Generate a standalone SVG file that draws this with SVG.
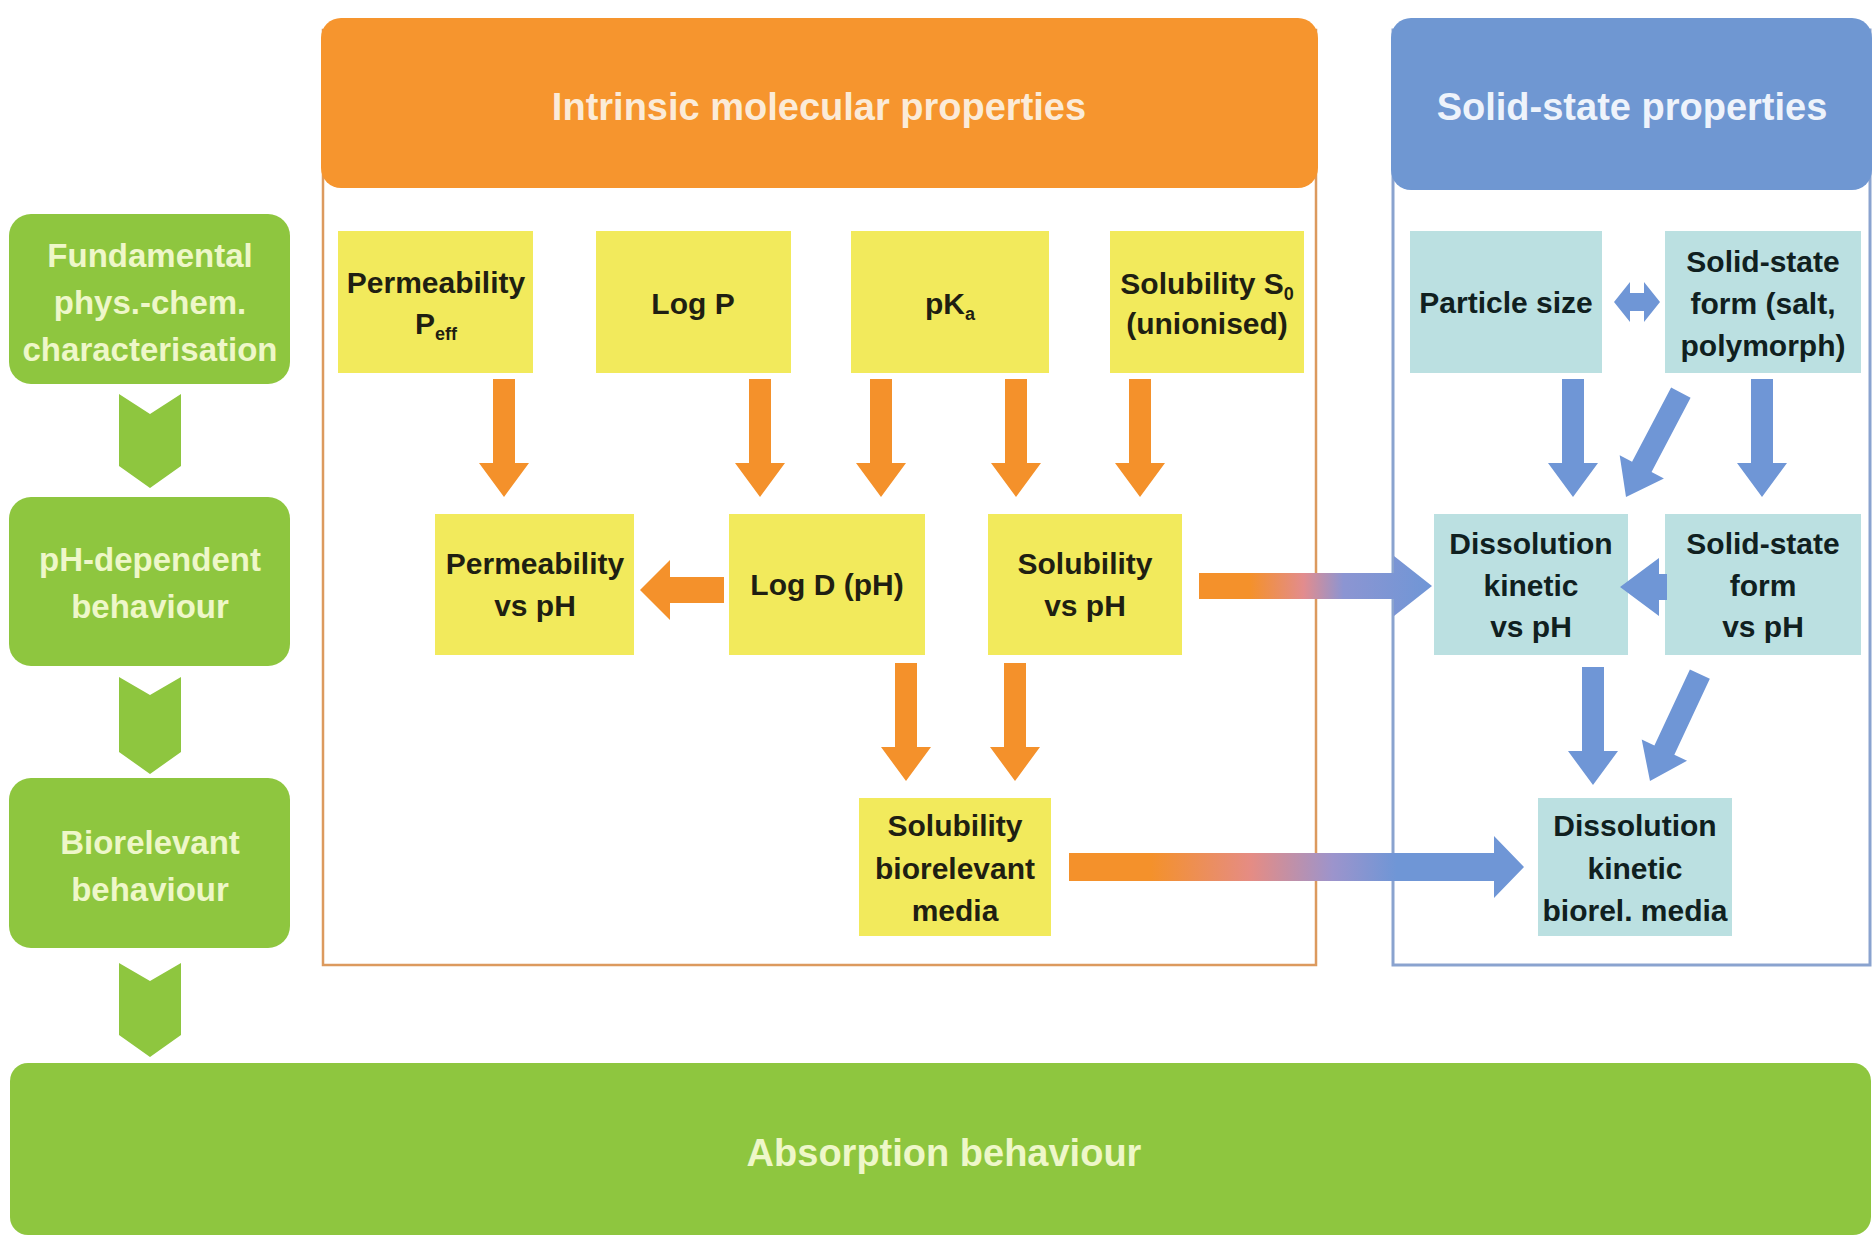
<svg xmlns="http://www.w3.org/2000/svg" xmlns:xlink="http://www.w3.org/1999/xlink" width="1874" height="1239" viewBox="0 0 1874 1239">
<style>
  .panelO { fill: #ffffff; stroke: #DC9A5E; stroke-width: 2.5; }
  .panelB { fill: #ffffff; stroke: #8AA3CF; stroke-width: 3; }
  .hdrO { fill: #F6952E; }
  .hdrB { fill: #6F97D2; }
  .green { fill: #8EC63F; }
  .yel { fill: #F2EA5C; }
  .lblue { fill: #BBE0E1; }
  .t-hdr { font-family: "Liberation Sans", Arial, sans-serif; font-weight: bold; font-size: 38px; text-anchor: middle; }
  .t-green { font-family: "Liberation Sans", Arial, sans-serif; font-weight: bold; font-size: 33px; text-anchor: middle; fill: #EEF7C9; }
  .t-box { font-family: "Liberation Sans", Arial, sans-serif; font-weight: bold; font-size: 30px; text-anchor: middle; fill: #1F1F12; }
  .t-boxb { font-family: "Liberation Sans", Arial, sans-serif; font-weight: bold; font-size: 30px; text-anchor: middle; fill: #10201F; }
  .sub { font-size: 18px; }
  .arO { fill: #F4912B; }
  .arB { fill: #6F96D6; }
</style>
<defs>
  <path id="dn" d="M-11,-118 H11 V-34 H25 L0,0 L-25,-34 H-11 Z"/>
  <linearGradient id="g1" gradientUnits="userSpaceOnUse" x1="1199" y1="0" x2="1432" y2="0">
    <stop offset="0" stop-color="#F4912B"/>
    <stop offset="0.22" stop-color="#F4912B"/>
    <stop offset="0.45" stop-color="#E28C8E"/>
    <stop offset="0.62" stop-color="#8C95D2"/>
    <stop offset="1" stop-color="#6F96D6"/>
  </linearGradient>
  <linearGradient id="g2" gradientUnits="userSpaceOnUse" x1="1069" y1="0" x2="1524" y2="0">
    <stop offset="0" stop-color="#F4912B"/>
    <stop offset="0.18" stop-color="#F4912B"/>
    <stop offset="0.4" stop-color="#E58C84"/>
    <stop offset="0.58" stop-color="#9C94CC"/>
    <stop offset="0.72" stop-color="#6F96D6"/>
    <stop offset="1" stop-color="#6F96D6"/>
  </linearGradient>
</defs>
<rect width="1874" height="1239" fill="#ffffff"/>

<!-- Panels -->
<g id="panel-intrinsic">
  <rect class="panelO" x="323" y="30" width="993" height="935"/>
  <rect class="hdrO" x="321" y="18" width="997" height="170" rx="20"/>
  <text class="t-hdr" x="819" y="120" fill="#FBEBD8">Intrinsic molecular properties</text>
</g>
<g id="panel-solid">
  <rect class="panelB" x="1393" y="30" width="477" height="935"/>
  <rect class="hdrB" x="1391" y="18" width="481" height="172" rx="20"/>
  <text class="t-hdr" x="1632" y="120" fill="#EEF3FB">Solid-state properties</text>
</g>

<!-- Left green stages -->
<g id="stage-fundamental">
  <rect class="green" x="9" y="214" width="281" height="170" rx="22"/>
  <text class="t-green" x="150" y="267">Fundamental</text>
  <text class="t-green" x="150" y="314">phys.-chem.</text>
  <text class="t-green" x="150" y="361">characterisation</text>
</g>
<g id="stage-ph">
  <rect class="green" x="9" y="497" width="281" height="169" rx="22"/>
  <text class="t-green" x="150" y="571">pH-dependent</text>
  <text class="t-green" x="150" y="618">behaviour</text>
</g>
<g id="stage-biorelevant">
  <rect class="green" x="9" y="778" width="281" height="170" rx="22"/>
  <text class="t-green" x="150" y="854">Biorelevant</text>
  <text class="t-green" x="150" y="901">behaviour</text>
</g>
<g id="absorption">
  <rect class="green" x="10" y="1063" width="1861" height="172" rx="18"/>
  <text class="t-hdr" x="944" y="1166" fill="#EEF7C9">Absorption behaviour</text>
</g>

<!-- Yellow boxes -->
<g id="perm-peff">
  <rect class="yel" x="338" y="231" width="195" height="142"/>
  <text class="t-box" x="436" y="293">Permeability</text>
  <text class="t-box" x="436" y="334">P<tspan class="sub" dy="6">eff</tspan></text>
</g>
<g id="logp">
  <rect class="yel" x="596" y="231" width="195" height="142"/>
  <text class="t-box" x="693" y="314">Log P</text>
</g>
<g id="pka">
  <rect class="yel" x="851" y="231" width="198" height="142"/>
  <text class="t-box" x="950" y="314">pK<tspan class="sub" dy="6">a</tspan></text>
</g>
<g id="solubility-s0">
  <rect class="yel" x="1110" y="231" width="194" height="142"/>
  <text class="t-box" x="1207" y="294">Solubility S<tspan class="sub" dy="6">0</tspan></text>
  <text class="t-box" x="1207" y="334">(unionised)</text>
</g>
<g id="perm-ph">
  <rect class="yel" x="435" y="514" width="199" height="141"/>
  <text class="t-box" x="535" y="574">Permeability</text>
  <text class="t-box" x="535" y="616">vs pH</text>
</g>
<g id="logd">
  <rect class="yel" x="729" y="514" width="196" height="141"/>
  <text class="t-box" x="827" y="595">Log D (pH)</text>
</g>
<g id="solubility-ph">
  <rect class="yel" x="988" y="514" width="194" height="141"/>
  <text class="t-box" x="1085" y="574">Solubility</text>
  <text class="t-box" x="1085" y="616">vs pH</text>
</g>
<g id="solubility-bio">
  <rect class="yel" x="859" y="798" width="192" height="138"/>
  <text class="t-box" x="955" y="836">Solubility</text>
  <text class="t-box" x="955" y="879">biorelevant</text>
  <text class="t-box" x="955" y="921">media</text>
</g>

<!-- Light blue boxes -->
<g id="particle-size">
  <rect class="lblue" x="1410" y="231" width="192" height="142"/>
  <text class="t-boxb" x="1506" y="313">Particle size</text>
</g>
<g id="solid-form">
  <rect class="lblue" x="1665" y="231" width="196" height="142"/>
  <text class="t-boxb" x="1763" y="272">Solid-state</text>
  <text class="t-boxb" x="1763" y="314">form (salt,</text>
  <text class="t-boxb" x="1763" y="356">polymorph)</text>
</g>
<g id="dissolution-ph">
  <rect class="lblue" x="1434" y="514" width="194" height="141"/>
  <text class="t-boxb" x="1531" y="554">Dissolution</text>
  <text class="t-boxb" x="1531" y="596">kinetic</text>
  <text class="t-boxb" x="1531" y="637">vs pH</text>
</g>
<g id="solid-form-ph">
  <rect class="lblue" x="1665" y="514" width="196" height="141"/>
  <text class="t-boxb" x="1763" y="554">Solid-state</text>
  <text class="t-boxb" x="1763" y="596">form</text>
  <text class="t-boxb" x="1763" y="637">vs pH</text>
</g>
<g id="dissolution-bio">
  <rect class="lblue" x="1538" y="798" width="194" height="138"/>
  <text class="t-boxb" x="1635" y="836">Dissolution</text>
  <text class="t-boxb" x="1635" y="879">kinetic</text>
  <text class="t-boxb" x="1635" y="921">biorel. media</text>
</g>

<!-- Connectors -->
<g id="connectors">
  <!-- green chevrons -->
  <path class="green" d="M119,394 L150,414 L181,394 V466 L150,488 L119,466 Z"/>
  <path class="green" d="M119,677 L150,695 L181,677 V752 L150,774 L119,752 Z"/>
  <path class="green" d="M119,963 L150,981 L181,963 V1035 L150,1057 L119,1035 Z"/>

  <!-- orange down arrows top row -> mid row -->
  <use href="#dn" xlink:href="#dn" class="arO" x="504" y="497"/>
  <use href="#dn" xlink:href="#dn" class="arO" x="760" y="497"/>
  <use href="#dn" xlink:href="#dn" class="arO" x="881" y="497"/>
  <use href="#dn" xlink:href="#dn" class="arO" x="1016" y="497"/>
  <use href="#dn" xlink:href="#dn" class="arO" x="1140" y="497"/>
  <!-- mid -> bottom -->
  <use href="#dn" xlink:href="#dn" class="arO" x="906" y="781"/>
  <use href="#dn" xlink:href="#dn" class="arO" x="1015" y="781"/>
  <!-- Log D -> Permeability vs pH -->
  <path class="arO" d="M640,590 L670,560 V577 H724 V603 H670 V620 Z"/>

  <!-- gradient arrows -->
  <path fill="url(#g1)" d="M1199,573 H1394 V556 L1432,586 L1394,616 V599 H1199 Z"/>
  <path fill="url(#g2)" d="M1069,853 H1494 V836 L1524,867 L1494,898 V881 H1069 Z"/>

  <!-- blue arrows -->
  <path class="arB" d="M1614,302 L1630,282 V293 H1644 V282 L1660,302 L1644,322 V311 H1630 V322 Z"/>
  <use href="#dn" xlink:href="#dn" class="arB" x="1573" y="497"/>
  <use href="#dn" xlink:href="#dn" class="arB" x="1762" y="497"/>
  <use href="#dn" xlink:href="#dn" class="arB" transform="translate(1626,497) rotate(27.7)"/>
  <path class="arB" d="M1620,587 L1659,558 V574 H1667 V600 H1659 V616 Z"/>
  <use href="#dn" xlink:href="#dn" class="arB" x="1593" y="785"/>
  <use href="#dn" xlink:href="#dn" class="arB" transform="translate(1650,781) rotate(25)"/>
</g>
</svg>
